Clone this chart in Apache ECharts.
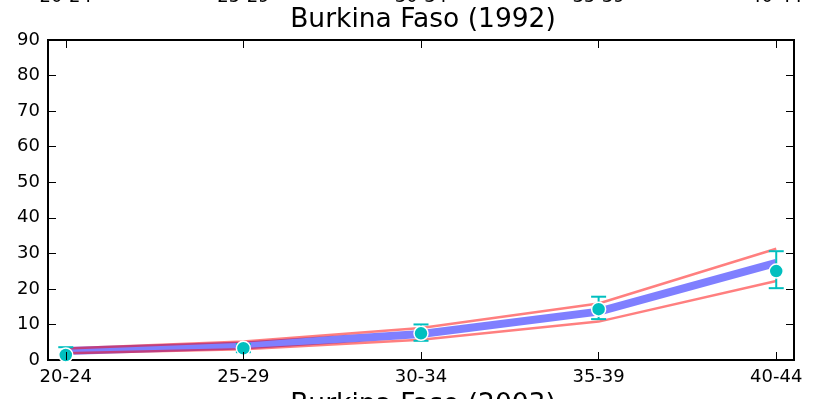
<!DOCTYPE html>
<html><head><meta charset="utf-8">
<script src="https://cdn.jsdelivr.net/npm/echarts@6/dist/echarts.min.js"></script>
<style>html,body{margin:0;padding:0;background:#fff}#c{width:818px;height:399px}</style>
</head><body><div id="c"></div>
<script>
const categories = ['20-24', '25-29', '30-34', '35-39', '40-44'];
const modelMean = [2.5, 4.1, 7.3, 13.6, 27.3];
const modelUpper = [3.2, 5.2, 9.0, 15.9, 31.3];
const modelLower = [1.9, 3.0, 5.7, 10.8, 22.2];
const observed = [1.4, 3.3, 7.5, 14.3, 25.0];
const errLow = [-0.5, 2.2, 5.4, 11.5, 20.2];
const errHigh = [3.6, 4.5, 10.0, 17.8, 30.6];
const titleText = 'Burkina Faso (1992)';
const nextTitleText = 'Burkina Faso (2003)';

const FONT = 'DejaVu Sans';
const FS = 18;
const CYAN = '#00bfbf';
const idx = categories.map((c, i) => i);
const pairs = arr => arr.map((v, i) => [i, v]);

const chart = echarts.init(document.getElementById('c'), null, {renderer: 'canvas'});

const tickStyle = {show: true, inside: true, length: 8, lineStyle: {color: '#000', width: 1}};
const noLine = {show: false, onZero: false};
const option = {
  animation: false,
  backgroundColor: '#fff',
  title: [
    {text: titleText, left: 418, top: 2, textAlign: 'center',
     textStyle: {fontFamily: FONT, fontSize: 26.5, fontWeight: 'normal', color: '#000'}},
    {text: nextTitleText, left: 418, top: 387, textAlign: 'center',
     textStyle: {fontFamily: FONT, fontSize: 26.5, fontWeight: 'normal', color: '#000'}}
  ],
  grid: [
    {left: 48, right: 24, top: 40, bottom: 39, containLabel: false, outerBoundsMode: 'none',
     show: true, borderColor: '#000', borderWidth: 2, backgroundColor: 'transparent'}
  ],
  xAxis: [
    {type: 'value', min: -0.1, max: 4.1, position: 'bottom', z: 5,
     axisLine: noLine, splitLine: {show: false},
     axisTick: Object.assign({customValues: idx}, tickStyle),
     axisLabel: {customValues: idx, formatter: v => categories[Math.round(v)], fontFamily: FONT, fontSize: FS, color: '#000', margin: 8}},
    {type: 'value', min: -0.1, max: 4.1, position: 'top', z: 5,
     axisLine: noLine, splitLine: {show: false},
     axisTick: Object.assign({customValues: idx}, tickStyle),
     axisLabel: {customValues: idx, formatter: v => categories[Math.round(v)], fontFamily: FONT, fontSize: FS, color: '#000', margin: 34}}
  ],
  yAxis: [
    {type: 'value', min: 0, max: 90, interval: 10, position: 'left', z: 5,
     axisLine: noLine, splitLine: {show: false},
     axisTick: tickStyle,
     axisLabel: {fontFamily: FONT, fontSize: FS, color: '#000', margin: 8}},
    {type: 'value', min: 0, max: 90, interval: 10, position: 'right', z: 5,
     axisLine: noLine, splitLine: {show: false},
     axisTick: tickStyle,
     axisLabel: {show: false}}
  ],
  series: [
    {type: 'line', xAxisIndex: 0, yAxisIndex: 0, data: pairs(modelMean), symbol: 'none', z: 2,
     lineStyle: {color: 'rgba(0,0,255,0.5)', width: 8}},
    {type: 'line', xAxisIndex: 0, yAxisIndex: 0, data: pairs(modelUpper), symbol: 'none', z: 3,
     lineStyle: {color: 'rgba(255,0,0,0.5)', width: 2.5}},
    {type: 'line', xAxisIndex: 0, yAxisIndex: 0, data: pairs(modelLower), symbol: 'none', z: 3,
     lineStyle: {color: 'rgba(255,0,0,0.5)', width: 2.5}},
    {type: 'custom', xAxisIndex: 0, yAxisIndex: 0, z: 4, clip: true,
     data: categories.map((c, i) => [i, errLow[i], errHigh[i]]),
     renderItem: (params, api) => {
       const x = api.value(0);
       const pLo = api.coord([x, api.value(1)]);
       const pHi = api.coord([x, api.value(2)]);
       const w = 7.5;
       const st = {stroke: CYAN, lineWidth: 2};
       return {type: 'group', children: [
         {type: 'line', shape: {x1: pLo[0], y1: pLo[1], x2: pHi[0], y2: pHi[1]}, style: st},
         {type: 'line', shape: {x1: pLo[0] - w, y1: pLo[1], x2: pLo[0] + w, y2: pLo[1]}, style: st},
         {type: 'line', shape: {x1: pHi[0] - w, y1: pHi[1], x2: pHi[0] + w, y2: pHi[1]}, style: st}
       ]};
     }},
    {type: 'scatter', xAxisIndex: 0, yAxisIndex: 0, data: pairs(observed), z: 4,
     symbol: 'circle', symbolSize: 14,
     itemStyle: {color: CYAN, borderColor: '#fff', borderWidth: 1.5, opacity: 1}}
  ]
};
chart.setOption(option);
</script>
</body></html>
